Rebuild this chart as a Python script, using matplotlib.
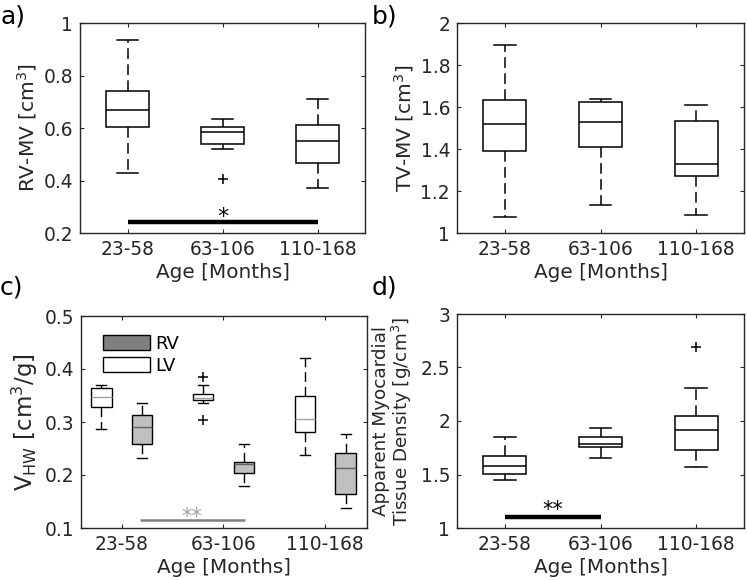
import matplotlib
matplotlib.use('Agg')
import matplotlib.pyplot as plt
from matplotlib.patches import Patch

# x categories
groups = ['23-58', '63-106', '110-168']

# a) RV-MV [cm^3]
a_whislo = [0.429, 0.520, 0.370]
a_q1 = [0.604, 0.540, 0.468]
a_med = [0.670, 0.584, 0.549]
a_q3 = [0.741, 0.605, 0.613]
a_whishi = [0.937, 0.634, 0.710]
a_fliers = [[], [0.406], []]

# b) TV-MV [cm^3]
b_whislo = [1.075, 1.133, 1.084]
b_q1 = [1.392, 1.408, 1.271]
b_med = [1.521, 1.527, 1.329]
b_q3 = [1.635, 1.624, 1.532]
b_whishi = [1.897, 1.638, 1.611]
b_fliers = [[], [], []]

# c) V_HW, LV (white) and RV (grey)
lv_whislo = [0.287, 0.335, 0.237]
lv_q1 = [0.328, 0.341, 0.281]
lv_med = [0.348, 0.346, 0.306]
lv_q3 = [0.365, 0.353, 0.350]
lv_whishi = [0.369, 0.370, 0.421]
lv_fliers = [[], [0.384, 0.304], []]

rv_whislo = [0.232, 0.180, 0.137]
rv_q1 = [0.259, 0.203, 0.165]
rv_med = [0.290, 0.220, 0.213]
rv_q3 = [0.313, 0.224, 0.242]
rv_whishi = [0.336, 0.259, 0.278]
rv_fliers = [[], [], []]

# d) apparent myocardial tissue density
d_whislo = [1.453, 1.653, 1.572]
d_q1 = [1.506, 1.756, 1.725]
d_med = [1.584, 1.781, 1.916]
d_q3 = [1.672, 1.853, 2.050]
d_whishi = [1.853, 1.938, 2.313]
d_fliers = [[], [], [2.694]]

TXT = '#262626'
plt.rcParams['font.family'] = ['DejaVu Sans']
plt.rcParams['font.size'] = 12
plt.rcParams['axes.edgecolor'] = TXT
plt.rcParams['xtick.color'] = TXT
plt.rcParams['ytick.color'] = TXT
plt.rcParams['axes.labelcolor'] = TXT


def make_stats(lo, q1, med, q3, hi, fl):
    return [dict(whislo=lo[i], q1=q1[i], med=med[i], q3=q3[i], whishi=hi[i],
                 fliers=fl[i]) for i in range(len(lo))]


def draw_box(ax, stats, pos, width, face='white', medcolor='black', lw=1.1):
    ax.bxp(stats, positions=pos, widths=width, capwidths=width * 0.5,
           patch_artist=True, showfliers=True, manage_ticks=False,
           boxprops=dict(facecolor=face, edgecolor='black', linewidth=lw),
           medianprops=dict(color=medcolor, linewidth=lw),
           whiskerprops=dict(color='black', linewidth=lw, linestyle=(0, (7, 3.5))),
           capprops=dict(color='black', linewidth=lw),
           flierprops=dict(marker='+', markeredgecolor='black', markersize=7,
                           markeredgewidth=1.1))


def style(ax, ylim, yticks, xlim=(0.5, 3.5)):
    ax.set_xlim(*xlim)
    ax.set_ylim(*ylim)
    ax.set_yticks(yticks)
    ax.set_yticklabels([f'{t:g}' for t in yticks])
    ax.set_xticks([1, 2, 3])
    ax.set_xticklabels(groups)
    ax.tick_params(direction='in', top=True, right=True, length=3, width=0.8,
                   labelsize=13.4, pad=5)
    for s in ax.spines.values():
        s.set_linewidth(1.0)
    ax.set_xlabel('Age [Months]', fontsize=14.4, labelpad=3)


fig = plt.figure(figsize=(7.47, 5.8), dpi=100)
W, H = 747, 580


def axes_px(l, t, r, b):
    return fig.add_axes([l / W, 1 - b / H, (r - l) / W, (b - t) / H])


# a)
ax = axes_px(80, 23, 365, 233)
draw_box(ax, make_stats(a_whislo, a_q1, a_med, a_q3, a_whishi, a_fliers), [1, 2, 3], 0.45)
style(ax, (0.2, 1.0), [0.2, 0.4, 0.6, 0.8, 1.0])
ax.set_ylabel('RV-MV [cm$^3$]', fontsize=14.5, labelpad=3)
ax.plot([1, 3], [0.243, 0.243], color='black', linewidth=3.2, solid_capstyle='butt')
ax.text(2, 0.262, '*', ha='center', va='center', fontsize=16, color='black')

# b)
ax = axes_px(457, 23, 744, 233)
draw_box(ax, make_stats(b_whislo, b_q1, b_med, b_q3, b_whishi, b_fliers), [1, 2, 3], 0.45)
style(ax, (1.0, 2.0), [1.0, 1.2, 1.4, 1.6, 1.8, 2.0])
ax.set_ylabel('TV-MV [cm$^3$]', fontsize=14.5, labelpad=3)

# c)
ax = axes_px(81, 316, 367, 528)
draw_box(ax, make_stats(lv_whislo, lv_q1, lv_med, lv_q3, lv_whishi, lv_fliers),
         [0.8, 1.8, 2.8], 0.2, face='white', medcolor='#a0a0a0', lw=1.0)
draw_box(ax, make_stats(rv_whislo, rv_q1, rv_med, rv_q3, rv_whishi, rv_fliers),
         [1.2, 2.2, 3.2], 0.2, face='#c0c0c0', medcolor='#606060', lw=1.0)
style(ax, (0.1, 0.5), [0.1, 0.2, 0.3, 0.4, 0.5], xlim=(0.6, 3.41))
ax.set_ylabel('V$_{\\mathrm{HW}}$ [cm$^3$/g]', fontsize=16.5, labelpad=3)
ax.plot([1.18, 2.21], [0.116, 0.116], color='#808080', linewidth=1.8, solid_capstyle='butt')
ax.text(1.69, 0.1215, '**', ha='center', va='center', fontsize=15, color='#a0a0a0')
handles = [Patch(facecolor='#808080', edgecolor='black', linewidth=1.0, label='RV'),
           Patch(facecolor='white', edgecolor='black', linewidth=1.0, label='LV')]
ax.legend(handles=handles, loc='upper left', bbox_to_anchor=(0.077, 0.912),
          frameon=False, fontsize=13, handlelength=2.6, handleheight=0.85,
          labelspacing=0.22, handletextpad=0.3, borderpad=0, borderaxespad=0)

# d)
ax = axes_px(457, 314, 744, 528)
draw_box(ax, make_stats(d_whislo, d_q1, d_med, d_q3, d_whishi, d_fliers), [1, 2, 3], 0.45)
style(ax, (1.0, 3.0), [1.0, 1.5, 2.0, 2.5, 3.0])
ax.set_ylabel('Apparent Myocardial\nTissue Density [g/cm$^3$]', fontsize=13.2,
              linespacing=0.95, labelpad=5)
ax.plot([1, 2], [1.106, 1.106], color='black', linewidth=3.2, solid_capstyle='butt')
ax.text(1.5, 1.165, '**', ha='center', va='center', fontsize=15, color='black')

# panel labels
for lab, x, y in [('a)', 0.0, 0.993), ('b)', 0.497, 0.993),
                  ('c)', 0.0, 0.525), ('d)', 0.497, 0.525)]:
    fig.text(x, y, lab, fontsize=18, va='top', ha='left', color='black')

fig.savefig('out.png', dpi=100)
